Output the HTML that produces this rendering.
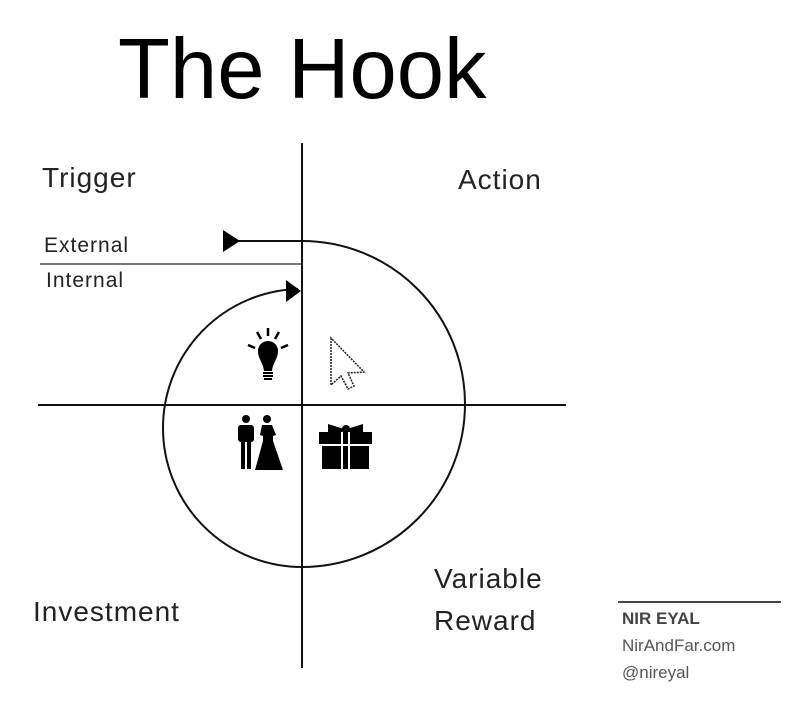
<!DOCTYPE html>
<html><head><style>
body{margin:0;width:808px;height:728px;background:#fff;position:relative;overflow:hidden;font-family:"Liberation Sans",sans-serif}
.t{position:absolute;white-space:nowrap;color:#111}
.q{font-size:28px;font-weight:300;letter-spacing:1px;color:#222}
.s{font-size:21px;letter-spacing:1px;color:#222}
.f{font-size:17px;color:#555}
</style></head><body>
<div class="t" style="left:118px;top:21px;font-size:85px;color:#000">The Hook</div>
<div class="t q" style="left:42px;top:162px">Trigger</div>
<div class="t q" style="left:458px;top:164px">Action</div>
<div class="t s" style="left:44px;top:234px">External</div>
<div class="t s" style="left:46px;top:269px">Internal</div>
<div class="t q" style="left:33px;top:596px">Investment</div>
<div class="t q" style="left:434px;top:563px">Variable</div>
<div class="t q" style="left:434px;top:605px">Reward</div>
<div class="t f" style="left:622px;top:609px;font-weight:bold;color:#444">NIR EYAL</div>
<div class="t f" style="left:622px;top:636px">NirAndFar.com</div>
<div class="t f" style="left:622px;top:663px">@nireyal</div>
<svg width="808" height="728" style="position:absolute;left:0;top:0">
<line x1="618" y1="602" x2="781" y2="602" stroke="#444" stroke-width="2"/>
<line x1="302" y1="143" x2="302" y2="668" stroke="#111" stroke-width="2"/>
<line x1="38" y1="405" x2="566" y2="405" stroke="#111" stroke-width="2"/>
<line x1="40" y1="264" x2="301" y2="264" stroke="#777" stroke-width="2"/>
<line x1="236" y1="241" x2="302" y2="241" stroke="#111" stroke-width="2"/>
<path d="M302 241 A163 163 0 0 1 465 404 A163 163 0 0 1 302 567 A139 139 0 0 1 163 428 A139 139 0 0 1 298 289" fill="none" stroke="#111" stroke-width="2"/>
<polygon points="223,230 223,252 240,241" fill="#000"/>
<polygon points="286,280 286,302 301,291" fill="#000"/>
<g fill="#000">
<path d="M258 351 a10 10 0 0 1 20 0 c0 8 -5 11 -6 20 h-8 c-1 -9 -6 -12 -6 -20z"/>
<rect x="263" y="372" width="10" height="2"/><rect x="263" y="375" width="10" height="2"/><rect x="264" y="378" width="8" height="2"/>
</g>
<g stroke="#000" stroke-width="2.5"><line x1="268" y1="328" x2="268" y2="336"/><line x1="257" y1="332" x2="261" y2="339"/><line x1="279" y1="332" x2="275" y2="339"/><line x1="248" y1="345" x2="255" y2="348"/><line x1="288" y1="345" x2="281" y2="348"/></g>
<path d="M331 338 L331 385 L341 376 L348 389 L354 386 L348 373 L364 372 Z" fill="#fff" stroke="#222" stroke-width="1.5" stroke-dasharray="2 1"/>
<g fill="#000">
<circle cx="246" cy="419" r="4"/><rect x="238" y="425" width="16" height="17" rx="3"/><rect x="241" y="440" width="4" height="29"/><rect x="247" y="440" width="4" height="29"/>
<circle cx="267" cy="419" r="4"/><path d="M262 425 h10 l4 10 l-3 1 l0 5 l10 29 h-28 l8 -29 l0 -5 l-3 -1z"/>
</g>
<g fill="#000">
<rect x="319" y="432" width="53" height="12"/><rect x="322" y="446" width="47" height="23"/>
<path d="M328 424 l16 5 l-2 4 h-14z M363 424 l-16 5 l2 4 h14z"/><circle cx="346" cy="429" r="4"/>
</g>
<g fill="#fff"><rect x="341" y="432" width="2" height="37"/><rect x="348" y="432" width="2" height="37"/></g>
</svg>
</body></html>
